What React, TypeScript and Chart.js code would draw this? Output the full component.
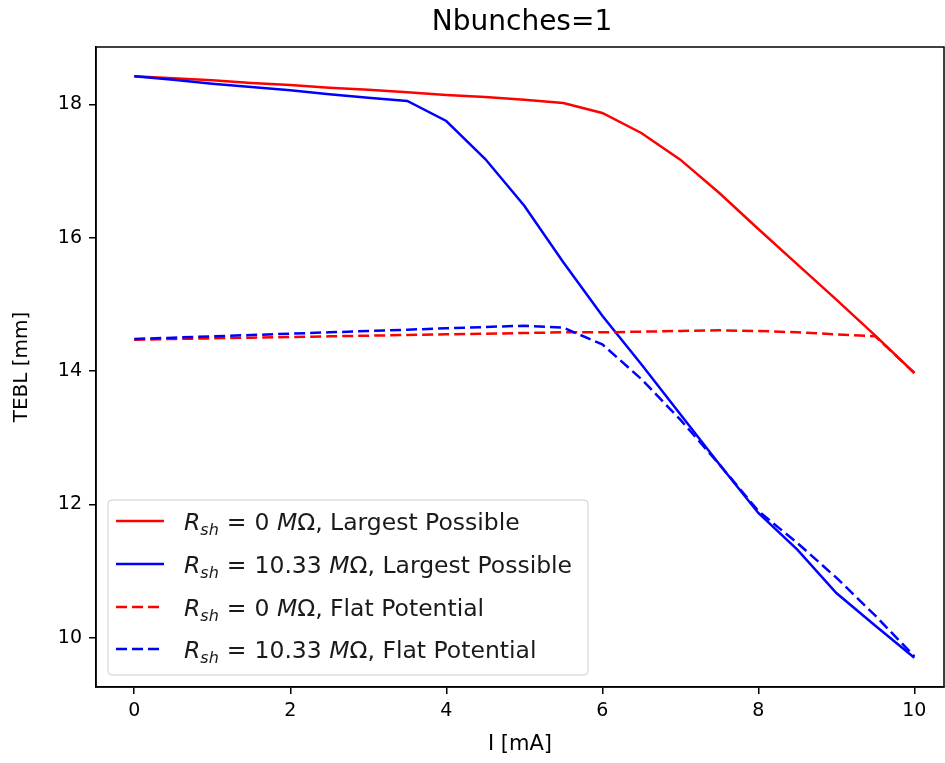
import React, { useEffect, useRef } from 'react';
import { Chart, registerables } from 'chart.js';

Chart.register(...registerables);

// ---- data ----
const currentMA = [0, 0.5, 1, 1.5, 2, 2.5, 3, 3.5, 4, 4.5, 5, 5.5, 6, 6.5, 7, 7.5, 8, 8.5, 9, 9.5, 10];
const redLargest = [18.42, 18.39, 18.36, 18.32, 18.29, 18.25, 18.22, 18.18, 18.14, 18.11, 18.07, 18.02, 17.87, 17.57, 17.17, 16.67, 16.13, 15.6, 15.07, 14.53, 13.97];
const blueLargest = [18.42, 18.37, 18.31, 18.26, 18.21, 18.15, 18.1, 18.05, 17.75, 17.18, 16.48, 15.63, 14.83, 14.1, 13.35, 12.6, 11.87, 11.32, 10.67, 10.18, 9.7];
const redFlat = [14.47, 14.48, 14.49, 14.5, 14.51, 14.52, 14.53, 14.54, 14.55, 14.56, 14.57, 14.58, 14.58, 14.59, 14.6, 14.61, 14.6, 14.58, 14.55, 14.52, 13.97];
const blueFlat = [14.48, 14.5, 14.52, 14.54, 14.56, 14.58, 14.6, 14.62, 14.64, 14.66, 14.68, 14.65, 14.4, 13.88, 13.27, 12.6, 11.9, 11.42, 10.9, 10.33, 9.72];

const xTicks = [0, 2, 4, 6, 8, 10];
const yTicks = [10, 12, 14, 16, 18];
const titleText = 'Nbunches=1';
const xLabel = 'I [mA]';
const yLabel = 'TEBL [mm]';
const legendValues = ['0', '10.33', '0', '10.33'];
const legendTails = ['Largest Possible', 'Largest Possible', 'Flat Potential', 'Flat Potential'];
const seriesColors = ['red', 'blue', 'red', 'blue'];
const seriesDashed = [false, false, true, true];

const FONT = "'DejaVu Sans', sans-serif";
const DASH = [11, 5];
const LW = 2.5;

const frameAndTextPlugin = {
  id: 'frameAndText',
  afterDraw(chart: any) {
    const ctx = chart.ctx as CanvasRenderingContext2D;
    const a = chart.chartArea;
    ctx.save();
    // frame
    ctx.strokeStyle = '#000';
    ctx.lineWidth = 1.5;
    ctx.setLineDash([]);
    ctx.strokeRect(a.left, a.top, a.right - a.left, a.bottom - a.top);
    // title
    ctx.fillStyle = '#000';
    ctx.font = `28px ${FONT}`;
    ctx.textAlign = 'center';
    ctx.textBaseline = 'middle';
    ctx.fillText(titleText, (a.left + a.right) / 2 + 2, 23);

    // legend
    const bx = 108, by = 500, bw = 480, bh = 175;
    ctx.beginPath();
    ctx.roundRect(bx, by, bw, bh, 4);
    ctx.fillStyle = 'rgba(255,255,255,0.8)';
    ctx.fill();
    ctx.strokeStyle = '#cccccc';
    ctx.lineWidth = 1;
    ctx.stroke();

    const f = 23.5;
    const rows = [521, 564, 607, 649];
    for (let i = 0; i < 4; i++) {
      const cy = rows[i];
      ctx.beginPath();
      ctx.strokeStyle = seriesColors[i];
      ctx.lineWidth = LW;
      ctx.setLineDash(seriesDashed[i] ? DASH : []);
      ctx.moveTo(116, cy);
      ctx.lineTo(164, cy);
      ctx.stroke();
      ctx.setLineDash([]);

      const base = cy + 8.5;
      let cx = 184;
      ctx.fillStyle = '#1a1a1a';
      ctx.textAlign = 'left';
      ctx.textBaseline = 'alphabetic';
      const italic = `italic ${f}px ${FONT}`;
      const normal = `${f}px ${FONT}`;
      const sub = `italic ${Math.round(f * 0.7)}px ${FONT}`;
      ctx.font = italic;
      ctx.fillText('R', cx, base);
      cx += ctx.measureText('R').width;
      ctx.font = sub;
      ctx.fillText('sh', cx, base + f * 0.22);
      cx += ctx.measureText('sh').width;
      ctx.font = normal;
      cx += f * 0.34;
      ctx.fillText('=', cx, base);
      cx += ctx.measureText('=').width + f * 0.34;
      ctx.fillText(legendValues[i], cx, base);
      cx += ctx.measureText(legendValues[i] + ' ').width;
      ctx.font = italic;
      ctx.fillText('M', cx, base);
      cx += ctx.measureText('M').width;
      ctx.font = normal;
      ctx.fillText('\u03A9', cx, base);
      cx += ctx.measureText('\u03A9').width;
      ctx.fillText(', ' + legendTails[i], cx, base);
    }
    ctx.restore();
  },
};

export default function App() {
  const ref = useRef<HTMLCanvasElement | null>(null);
  useEffect(() => {
    if (!ref.current) return;
    const mk = (data: number[], i: number, order: number) => ({
      label: `R_sh=${legendValues[i]} MΩ, ${legendTails[i]}`,
      data: currentMA.map((x, k) => ({ x, y: data[k] })),
      borderColor: seriesColors[i],
      backgroundColor: seriesColors[i],
      borderWidth: LW,
      borderDash: seriesDashed[i] ? DASH : [],
      pointRadius: 0,
      fill: false,
      tension: 0,
      order,
    });
    const chart = new Chart(ref.current, {
      type: 'line',
      data: {
        datasets: [
          mk(redLargest, 0, 4),
          mk(blueLargest, 1, 3),
          mk(redFlat, 2, 2),
          mk(blueFlat, 3, 1),
        ],
      },
      options: {
        animation: false,
        responsive: false,
        devicePixelRatio: 1,
        layout: { padding: { top: 47, right: 1, left: 0, bottom: 0 } },
        plugins: {
          legend: { display: false },
          title: { display: false },
          tooltip: { enabled: false },
        },
        scales: {
          x: {
            type: 'linear',
            min: -0.49,
            max: 10.38,
            afterFit(scale: any) {
              scale.height = 76;
            },
            afterBuildTicks(scale: any) {
              scale.ticks = xTicks.map((v) => ({ value: v }));
            },
            ticks: {
              color: '#000',
              font: { family: FONT, size: 19 },
              padding: 6,
              maxRotation: 0,
              callback: (v: any) => String(v),
            },
            grid: {
              display: true,
              drawOnChartArea: false,
              drawTicks: true,
              tickLength: 7,
              color: '#000',
              lineWidth: 1.5,
            },
            border: { display: true, color: '#000', width: 1.5 },
            title: {
              display: true,
              text: xLabel,
              color: '#000',
              font: { family: FONT, size: 21 },
              padding: { top: 0, bottom: 6 },
            },
          },
          y: {
            type: 'linear',
            min: 9.26,
            max: 18.86,
            afterFit(scale: any) {
              scale.width = 96;
            },
            afterBuildTicks(scale: any) {
              scale.ticks = yTicks.map((v) => ({ value: v }));
            },
            ticks: {
              color: '#000',
              font: { family: FONT, size: 19 },
              padding: 7,
              callback: (v: any) => String(v),
            },
            grid: {
              display: true,
              drawOnChartArea: false,
              drawTicks: true,
              tickLength: 7,
              color: '#000',
              lineWidth: 1.5,
            },
            border: { display: true, color: '#000', width: 1.5 },
            title: {
              display: true,
              text: yLabel,
              color: '#000',
              font: { family: FONT, size: 20 },
              padding: { top: 10, bottom: 0 },
            },
          },
        },
      },
      plugins: [frameAndTextPlugin],
    } as any);
    return () => chart.destroy();
  }, []);

  return (
    <div style={{ position: 'fixed', left: 0, top: 0, width: 945, height: 763, background: '#fff' }}>
      <canvas ref={ref} width={945} height={763} style={{ width: 945, height: 763, display: 'block' }} />
    </div>
  );
}
